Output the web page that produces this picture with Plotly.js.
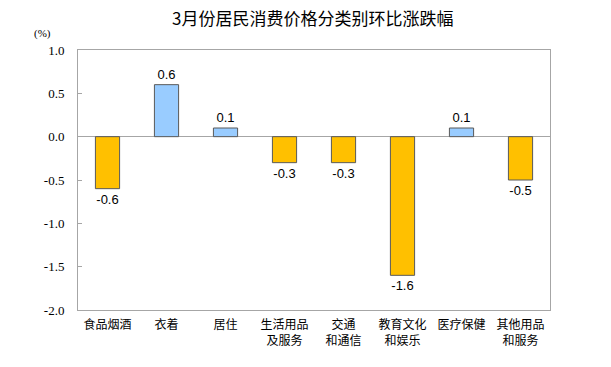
<!DOCTYPE html>
<html>
<head>
<meta charset="utf-8">
<script src="https://cdn.plot.ly/plotly-3.0.1.min.js"></script>
<style>html,body{margin:0;padding:0;background:#fff;}#chart{width:611px;height:367px;}</style>
</head>
<body>
<div id="chart"></div>
<script>
const categories = ['食品烟酒', '衣着', '居住', '生活用品<br>及服务', '交通<br>和通信', '教育文化<br>和娱乐', '医疗保健', '其他用品<br>和服务'];
const values = [-0.6, 0.6, 0.1, -0.3, -0.3, -1.6, 0.1, -0.5];
const yTicks = [-2.0, -1.5, -1.0, -0.5, 0.0, 0.5, 1.0];

const colors = values.map(v => v >= 0 ? '#99CCFF' : '#FFC000');
const fmt = v => v.toFixed(1);

const trace = {
  type: 'bar',
  x: categories,
  y: values,
  text: values.map(fmt),
  texttemplate: '%{text}',
  marker: { color: colors, line: { color: '#595959', width: 1 } },
  textposition: 'outside',
  cliponaxis: false,
  textfont: { family: 'Liberation Sans, Arial, sans-serif', size: 13, color: '#000' },
  hoverinfo: 'none'
};

const layout = {
  width: 611, height: 367,
  margin: { l: 78, r: 61, t: 50, b: 57 },
  paper_bgcolor: '#fff', plot_bgcolor: '#fff',
  bargap: 0.59,
  showlegend: false,
  title: {
    text: '3月份居民消费价格分类别环比涨跌幅',
    font: { family: 'Noto Sans CJK SC, sans-serif', size: 17, color: '#000' },
    x: 0.512, xref: 'container', xanchor: 'center',
    y: 0.965, yref: 'container', yanchor: 'top'
  },
  xaxis: {
    type: 'category',
    showline: true, linecolor: '#A6A6A6', linewidth: 1, mirror: true,
    showgrid: false, ticks: '',
    tickfont: { family: 'Noto Sans CJK SC, sans-serif', size: 12, color: '#000' },
    ticklabelstandoff: 4,
    fixedrange: true
  },
  yaxis: {
    range: [-2, 1],
    tickvals: yTicks,
    ticktext: yTicks.map(fmt),
    showline: true, linecolor: '#A6A6A6', linewidth: 1, mirror: true,
    showgrid: false,
    zeroline: true, zerolinecolor: '#A6A6A6', zerolinewidth: 1,
    ticks: 'inside', ticklen: 4, tickcolor: '#A6A6A6',
    tickfont: { family: 'Liberation Serif, Times New Roman, serif', size: 13, color: '#000' },
    ticklabelstandoff: 10,
    fixedrange: true
  },
  annotations: [{
    text: '(%)', xref: 'paper', yref: 'paper', x: -0.075, y: 1.0,
    xanchor: 'center', yanchor: 'bottom', yshift: 8, showarrow: false,
    font: { family: 'Liberation Serif, Times New Roman, serif', size: 11, color: '#000' }
  }]
};

Plotly.newPlot('chart', [trace], layout, { displayModeBar: false, staticPlot: true });
</script>
</body>
</html>
